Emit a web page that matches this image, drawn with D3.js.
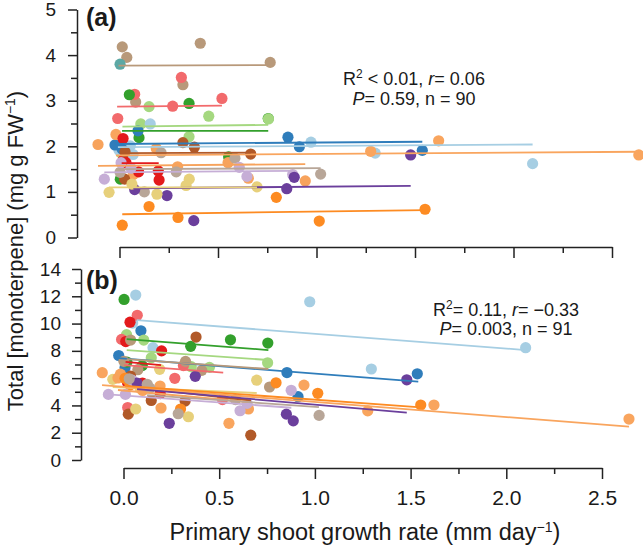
<!DOCTYPE html>
<html><head><meta charset="utf-8">
<script src="https://cdn.jsdelivr.net/npm/d3@7"></script>
<style>
html,body{margin:0;padding:0;background:#fff;}
svg text{font-family:"Liberation Sans",Arial,Helvetica,sans-serif;fill:#1a1a1a;}
</style></head>
<body><svg id="c" width="643" height="549"></svg>
<script>
// ---- groups ----
const groupNames  = ["lblue","blue","lgreen","green","pink","red","loLong","loShort","orange","lv","purple","ye","brown","tan","gt","teal"];
const groupColors = ["#a6cee3","#2f7dbb","#a5d880","#33a02c","#f26a6c","#e31a1c","#f9a55e","#f7a35c","#fd8b22","#c6aed6","#6b3f9c","#e7d07b","#b15928","#b8997a","#b8a698","#5ca8a4"];

// ---- panel (a) points ----
const aGroup = [
 "tan","tan","tan","tan","tan","tan",
 "teal",
 "pink","pink","pink","pink","pink","pink",
 "green","green","green","green","green","green",
 "lgreen","lgreen","lgreen","lgreen","lgreen","lgreen",
 "lblue","lblue","lblue","lblue","lblue","lblue","lblue",
 "blue","blue","blue","blue","blue","blue",
 "loLong","loLong","loLong","loLong","loLong",
 "loShort","loShort","loShort","loShort","loShort","loShort",
 "orange","orange","orange","orange","orange","orange",
 "red","red","red","red","red","red",
 "brown","brown","brown","brown","brown",
 "gt","gt","gt","gt","gt","gt",
 "lv","lv","lv","lv","lv","lv",
 "purple","purple","purple","purple","purple","purple",
 "ye","ye","ye","ye","ye","ye"];
const aX = [
 0.014,0.037,0.410,0.765,0.322,0.082,
 0.003,
 0.314,0.077,0.270,0.520,-0.009,0.033,
 0.050,0.353,0.755,0.099,0.554,0.004,
 0.150,0.453,0.108,0.353,0.008,0.756,
 0.156,0.055,0.972,0.069,1.298,2.097,-0.003,
 0.094,-0.023,0.013,0.855,0.913,1.537,
 -0.018,0.070,1.275,1.620,2.636,
 -0.109,0.187,0.295,0.551,0.654,0.943,
 0.150,0.297,0.796,0.014,1.014,1.551,
 0.018,0.019,0.033,0.097,0.197,0.201,
 0.322,0.380,0.666,0.026,0.028,
 0.211,0.586,0.003,0.288,0.126,1.021,
 0.008,0.058,0.608,0.647,0.879,-0.077,
 0.077,0.241,0.377,0.849,0.887,1.478,
 0.063,0.354,0.338,0.698,-0.053,0.190];
const aY = [
 4.18,3.95,4.26,3.84,3.35,2.97,
 3.80,
 3.51,3.14,2.88,3.05,2.61,2.01,
 3.13,2.94,2.61,2.19,1.77,1.28,
 2.87,2.66,2.49,2.21,1.85,2.60,
 2.49,2.01,2.09,1.82,1.85,1.62,1.92,
 2.34,2.03,1.94,2.20,1.99,1.91,
 2.26,1.38,1.89,2.12,1.81,
 2.04,1.95,1.55,1.64,1.30,1.24,
 0.68,0.44,0.88,0.27,0.36,0.62,
 2.17,1.70,1.64,1.44,1.46,1.26,
 2.08,1.98,1.83,1.28,1.88,
 1.86,1.74,1.43,1.44,1.00,1.39,
 1.64,1.52,1.54,1.34,1.38,1.28,
 1.05,0.92,0.37,1.07,1.32,1.81,
 1.17,1.28,1.14,1.11,0.99,0.95];
// panel (a) fitted lines
const aLineGroup = ["tan","pink","lgreen","green","blue","lblue","loLong","loShort","brown","red","gt","lv","purple","ye","orange"];
const aLineX0 = [-0.005,-0.012,0.015,0.013,-0.023,-0.008,-0.018,-0.109,0.018,0.011,-0.014,-0.077,0.070,-0.053,0.014];
const aLineX1 = [0.765,0.520,0.755,0.755,1.537,2.097,2.636,0.943,0.666,0.199,1.021,0.879,1.478,0.698,1.551];
const aLineY0 = [3.77,2.87,2.43,2.34,2.05,1.98,1.80,1.57,1.85,1.63,1.50,1.43,1.08,1.10,0.51];
const aLineY1 = [3.78,2.89,2.47,2.34,2.10,2.04,1.88,1.61,1.86,1.63,1.52,1.46,1.13,1.10,0.60];

// ---- panel (b) points ----
const bGroup = [
 "lblue","lblue","lblue","lblue","lblue","lblue",
 "blue","blue","blue","blue","blue","blue",
 "green","green","green","green","green","green",
 "lgreen","lgreen","lgreen","lgreen","lgreen","lgreen",
 "pink","pink","pink","pink","pink","pink",
 "red","red","red","red","red","red",
 "tan","tan","tan","tan","tan","tan",
 "brown","brown","brown","brown","brown","brown",
 "ye","ye","ye","ye","ye","ye",
 "loLong","loLong","loLong","loLong","loLong","loLong","loLong",
 "loShort","loShort","loShort","loShort","loShort","loShort",
 "orange","orange","orange","orange","orange","orange",
 "lv","lv","lv","lv","lv","lv",
 "purple","purple","purple","purple","purple","purple",
 "gt","gt","gt","gt","gt","gt"];
const bX = [
 0.064,0.973,0.048,0.154,1.295,2.101,
 0.091,-0.025,0.008,0.854,0.912,1.535,
 0.003,0.559,0.351,0.754,0.098,0.018,
 0.016,0.106,0.145,0.354,0.449,0.753,
 0.072,-0.010,0.313,0.268,0.022,0.517,
 0.034,0.012,0.199,0.021,0.099,0.192,
 0.037,0.002,0.324,0.075,0.409,0.763,
 0.379,0.037,0.145,0.322,0.025,0.665,
 -0.056,0.189,0.064,0.339,0.696,0.086,
 -0.111,0.943,1.622,1.276,2.641,0.551,0.191,
 -0.016,0.196,0.653,-0.029,0.034,0.100,
 0.008,0.298,0.797,1.015,1.553,0.034,
 -0.079,0.010,0.609,0.646,0.876,0.044,
 0.375,0.071,0.239,0.851,0.887,1.480,
 0.124,0.286,0.585,1.022,0.138,0.030];
const bY = [
 12.09,11.60,10.04,8.23,6.67,8.23,
 9.47,7.66,6.76,6.41,4.64,6.32,
 11.77,8.81,8.33,8.57,6.92,7.18,
 9.19,8.79,7.49,6.84,6.79,7.13,
 10.61,8.84,6.92,5.99,3.85,4.43,
 10.10,8.68,8.00,5.68,5.64,4.87,
 8.79,7.23,7.23,6.62,6.57,5.35,
 9.01,6.15,4.36,4.32,3.36,1.82,
 5.91,6.65,3.74,3.17,5.85,5.27,
 6.40,5.49,4.03,3.60,3.00,2.69,5.42,
 6.29,3.81,3.74,6.01,5.64,5.10,
 5.99,3.74,5.66,4.89,4.03,5.49,
 4.81,4.81,3.61,4.15,5.11,5.86,
 6.13,5.63,2.69,3.36,2.87,5.88,
 5.55,3.39,4.43,3.27,5.27,5.95];
// panel (b) fitted lines
const bLineGroup = ["lblue","blue","green","lgreen","pink","red","tan","brown","ye","loLong","loShort","orange","lv","purple","gt"];
const bLineX0 = [0.069,-0.025,0.017,0.017,0.003,0.011,0.017,0.024,-0.056,-0.112,-0.029,0.008,-0.079,0.071,0.123];
const bLineX1 = [2.101,1.540,0.757,0.755,0.521,0.196,0.757,0.666,0.696,2.641,0.653,1.553,0.877,1.480,1.021];
const bLineY0 = [10.26,7.46,8.86,8.06,6.96,7.20,7.40,5.38,5.35,5.49,5.13,5.44,4.81,5.20,4.76];
const bLineY1 = [8.06,5.74,8.06,7.33,6.40,6.96,6.67,4.36,4.91,2.44,4.25,3.85,3.83,3.47,3.88];

// ---- ticks & labels ----
const xMajor = [0,0.5,1,1.5,2,2.5];
const xMinor = [0.25,0.75,1.25,1.75,2.25];
const aYMajor = [0,1,2,3,4,5];
const aYMinor = [0.5,1.5,2.5,3.5,4.5];
const bYMajor = [0,2,4,6,8,10,12,14];
const bYMinor = [1,3,5,7,9,11,13];
const xTitle = "Primary shoot growth rate (mm day";
const yTitle = "Total [monoterpene] (mg g FW";

const color = d3.scaleOrdinal(groupNames, groupColors);
const svg = d3.select("#c");

function panel(cfg){
  const g = svg.append("g");
  const x = d3.scaleLinear([0,2.5], cfg.xr);
  const y = d3.scaleLinear(cfg.yd, cfg.yr);
  // points
  const pts = d3.range(cfg.X.length).map(i=>({x:cfg.X[i], y:cfg.Y[i], g:cfg.G[i]}));
  g.append("g").selectAll("circle").data(pts).join("circle")
    .attr("cx",d=>x(d.x)).attr("cy",d=>y(d.y)).attr("r",5.6)
    .attr("fill",d=>color(d.g));
  // lines
  const lines = d3.range(cfg.LG.length).map(i=>({g:cfg.LG[i],x0:cfg.LX0[i],x1:cfg.LX1[i],y0:cfg.LY0[i],y1:cfg.LY1[i]}));
  g.append("g").selectAll("line").data(lines).join("line")
    .attr("x1",d=>x(d.x0)).attr("x2",d=>x(d.x1))
    .attr("y1",d=>y(d.y0)).attr("y2",d=>y(d.y1))
    .attr("stroke",d=>color(d.g)).attr("stroke-width",1.8);
  // y axis
  const ya = g.append("g").attr("transform",`translate(${cfg.yAxisX},0)`)
    .call(d3.axisLeft(y).tickValues(cfg.yMajor).tickSize(9).tickSizeOuter(0).tickPadding(cfg.yPad).tickFormat(d3.format("d")));
  g.append("g").attr("transform",`translate(${cfg.yAxisX},0)`)
    .call(d3.axisLeft(y).tickValues(cfg.yMinor).tickSize(6).tickSizeOuter(0).tickFormat(""))
    .select(".domain").remove();
  // x axis
  const xa = g.append("g").attr("transform",`translate(0,${cfg.xAxisY})`)
    .call(d3.axisBottom(x).tickValues(xMajor).tickSize(11).tickSizeOuter(0).tickPadding(11)
      .tickFormat(cfg.xLabels ? d3.format(".1f") : ""));
  g.append("g").attr("transform",`translate(0,${cfg.xAxisY})`)
    .call(d3.axisBottom(x).tickValues(xMinor).tickSize(6).tickSizeOuter(0).tickFormat(""))
    .select(".domain").remove();
  g.selectAll(".domain, .tick line").attr("stroke","#222").attr("stroke-width",1.5);
  ya.selectAll("text").attr("font-size",19).attr("fill","#1a1a1a");
  xa.selectAll("text").attr("font-size",21).attr("fill","#1a1a1a");
  // panel label
  g.append("text").attr("x",86).attr("y",cfg.labY).attr("font-size",25).attr("font-weight","bold").text(cfg.label);
  // annotation
  const t1 = g.append("text").attr("x",cfg.annX).attr("y",cfg.annY).attr("text-anchor","middle").attr("font-size",cfg.annFs);
  t1.append("tspan").text("R");
  t1.append("tspan").attr("font-size",12).attr("baseline-shift","super").text("2");
  t1.append("tspan").text(cfg.ann1a);
  t1.append("tspan").attr("font-style","italic").text("r");
  t1.append("tspan").text(cfg.ann1b);
  const t2 = g.append("text").attr("x",cfg.annX).attr("y",cfg.annY+cfg.annGap).attr("text-anchor","middle").attr("font-size",cfg.annFs);
  t2.append("tspan").attr("font-style","italic").text("P");
  t2.append("tspan").text(cfg.ann2);
}

panel({X:aX,Y:aY,G:aGroup,LG:aLineGroup,LX0:aLineX0,LX1:aLineX1,LY0:aLineY0,LY1:aLineY1,
  xr:[119.5,612], yd:[0,5], yr:[237.5,9.5], yAxisX:77, xAxisY:247, yPad:12,
  yMajor:aYMajor, yMinor:aYMinor, xLabels:false, label:"(a)", labY:26,
  annX:414, annY:85, annGap:19.5, annFs:18, ann1a:" < 0.01, ", ann1b:"= 0.06", ann2:"= 0.59, n = 90"});
panel({X:bX,Y:bY,G:bGroup,LG:bLineGroup,LX0:bLineX0,LX1:bLineX1,LY0:bLineY0,LY1:bLineY1,
  xr:[123.5,602], yd:[0,14], yr:[460,269], yAxisX:81, xAxisY:468, yPad:11,
  yMajor:bYMajor, yMinor:bYMinor, xLabels:true, label:"(b)", labY:289,
  annX:506, annY:315.5, annGap:19.5, annFs:18, ann1a:"= 0.11, ", ann1b:"= \u22120.33", ann2:"= 0.003, n = 91"});

// axis titles
const xt = svg.append("text").attr("x",365).attr("y",540).attr("text-anchor","middle").attr("font-size",23.5);
xt.append("tspan").text(xTitle);
xt.append("tspan").attr("font-size",14).attr("baseline-shift","super").text("\u22121");
xt.append("tspan").text(")");
const yt = svg.append("text").attr("transform","translate(23,251) rotate(-90)").attr("text-anchor","middle").attr("font-size",22);
yt.append("tspan").text(yTitle);
yt.append("tspan").attr("font-size",14).attr("baseline-shift","super").text("\u22121");
yt.append("tspan").text(")");
</script></body></html>
